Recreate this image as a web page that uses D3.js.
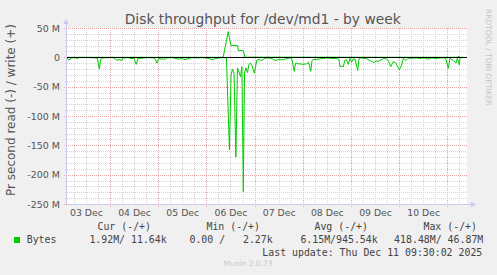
<!DOCTYPE html>
<html><head><meta charset="utf-8">
<script src="https://cdn.jsdelivr.net/npm/d3@7"></script>
<style>body{margin:0;background:#f0f0f0;overflow:hidden}</style>
</head><body>
<svg id="chart" width="497" height="275"></svg>
<script>
// ---- data (hours since 03 Dec 00:00; values in bytes/s, M = 1e6) ----
const dayLabels = ["03 Dec","04 Dec","05 Dec","06 Dec","07 Dec","08 Dec","09 Dec","10 Dec"];
const yTickValues = [50, 0, -50, -100, -150, -200, -250];
const readHours = [2.6,3.6,4.6,6.6,7.6,8.6,11.5,14.0,16.5,17.7,18.7,19.4,20.5,23.0,25.5,27.5,28.5,30.0,30.5,33.0,34.5,36.0,37.1,37.9,39.9,42.9,45.4,46.4,47.4,48.2,49.9,51.7,52.4,54.9,56.9,58.4,59.9,61.4,63.3,64.8,66.8,70.3,73.3,74.8,76.6,78.8,80.8,82.0,83.5,84.3,85.0,85.8,86.7,87.5,88.2,89.0,89.7,90.4,91.0,91.7,92.5,93.2,94.0,94.7,95.9,97.1,97.7,98.7,99.7,101.2,102.7,104.7,106.2,107.7,110.2,112.1,113.6,114.6,115.8,116.4,117.1,118.6,120.1,122.0,122.9,124.0,124.6,125.1,127.6,130.1,132.1,134.6,137.1,138.1,138.5,139.5,140.2,141.0,141.8,142.7,143.5,144.4,145.0,146.0,147.4,148.0,148.5,150.0,151.5,153.5,154.5,155.5,156.5,157.5,158.5,159.8,161.0,162.6,163.8,165.1,166.4,168.1,169.3,170.1,171.4,172.5,174.4,176.4,178.4,180.4,182.4,184.4,186.3,188.3,190.3,191.3,192.5,193.3,195.0,196.3,197.0,198.0,198.3,199.3,200.8];
const readValues = [1,5,1,0.5,2,0.5,0.3,0.5,1,2,19.6,3,1,0.5,0.5,5,4,5,1,0.5,2,2,12,2,1.5,0.5,1,2,10,2,3,3,1,0.5,2,3,2,4,2,0.5,1,0.5,2,4,2,1,0.5,1,158,30,20,28,170,18,25,33,16,229,27,18,26,12,10,14,27,5,4,4,5,1.5,1,2,5.5,4,4,2,1,3,24,10,11,11,12,11,8,24,6,4,3,2,1,2,2,4,16,15,16,5,4,12,2,8,3,3,22.5,3,1,1.5,2,5.5,7,9,6,7,5,3,1.5,5.5,16,7,10,21,13,1.5,5.5,1.5,1.5,1,2,1,3,1,2,1,1,3,18.8,1.5,5.5,10,1.5,13,0.5,0.5,0.3];
const writeHours = [2.6,79.8,80.4,82.9,83.6,84.3,87.6,87.9,90.4,91.2,196.8,197.8,198.6,200.8];
const writeValues = [0.02,0.02,0.5,44,30,20,20,11.5,11.5,0.3,0.05,1.5,0.05,0.02];
const legendHeader = ["Cur (-/+)","Min (-/+)","Avg (-/+)","Max (-/+)"];
const legendValues = ["1.92M/ 11.64k","0.00 /   2.27k","6.15M/945.54k","418.48M/ 46.87M"];

const M = 1e6;
const svg = d3.select("#chart");
const L = 67, R = 467, T = 28, B = 204;
const x = d3.scaleLinear().domain([2.6, 201.8]).range([L, R]);
const y = d3.scaleLinear().domain([-250*M, 50*M]).range([B, T]);
const px = v => Math.round(v) + 0.5;

svg.append("rect").attr("width",497).attr("height",275).attr("fill","#f0f0f0");
svg.append("rect").attr("x",L).attr("y",T).attr("width",R-L).attr("height",B-T).attr("fill","#ffffff");

const minorCol = "#d4d4d4", majorCol = "#e6a4a4";
// vertical grid
const g = svg.append("g");
for (let h = 6; h <= 201; h += 6) {
  const major = h % 24 === 0;
  g.append("line").attr("x1",px(x(h))).attr("x2",px(x(h)))
    .attr("y1",T).attr("y2",B + (major?3:2))
    .attr("stroke", major?majorCol:minorCol).attr("stroke-dasharray","1,1");
}
// horizontal grid
for (let v = -250; v <= 50; v += 10) {
  const major = v % 50 === 0;
  g.append("line").attr("y1",px(y(v*M))).attr("y2",px(y(v*M)))
    .attr("x1",L - (major?3:2)).attr("x2",R)
    .attr("stroke", major?majorCol:minorCol).attr("stroke-dasharray","1,1");
}

// axes lines with arrows
const axCol = "#c8caf4";
svg.append("line").attr("x1",px(L)-1).attr("x2",px(L)-1).attr("y1",B).attr("y2",T-5).attr("stroke",axCol);
svg.append("path").attr("d",`M${L-4},${T-4} L${L+2},${T-4} L${L-1},${T-9} Z`).attr("fill",axCol);
svg.append("line").attr("x1",L).attr("x2",R+5).attr("y1",px(B)).attr("y2",px(B)).attr("stroke",axCol);
svg.append("path").attr("d",`M${R+4},${B-2.5} L${R+4},${B+3.5} L${R+9},${B+0.5} Z`).attr("fill",axCol);

// data lines
const green = "#00cc00";
const readPts = readHours.map((h,i)=>[h, -readValues[i]*M]);
const writePts = writeHours.map((h,i)=>[h, writeValues[i]*M]);
const line = d3.line().x(d=>x(d[0])).y(d=>y(d[1]));
svg.append("path").datum(readPts).attr("d",line).attr("fill","none").attr("stroke",green).attr("stroke-width",1);
svg.append("path").datum(writePts).attr("d",line).attr("fill","none").attr("stroke",green).attr("stroke-width",1);
// zero rule
svg.append("line").attr("x1",L).attr("x2",R).attr("y1",px(y(0))).attr("y2",px(y(0))).attr("stroke","#000");

// y tick labels
const yAxis = d3.axisLeft(y).tickValues(yTickValues.map(v=>v*M)).tickSize(0)
  .tickFormat(v => v === 0 ? "0" : (v/M) + " M");
const ya = svg.append("g").attr("transform",`translate(${L-4},0)`).call(yAxis);
ya.select(".domain").remove();
ya.selectAll("text").attr("font-family","DejaVu Sans").attr("font-size","9.5px").attr("fill","#555");

// x day labels (noon of each day)
const xAxis = d3.axisBottom(x).tickValues(dayLabels.map((d,i)=>12+24*i)).tickSize(0)
  .tickFormat((d,i)=>dayLabels[i]);
const xa = svg.append("g").attr("transform",`translate(0,${B+2})`).call(xAxis);
xa.select(".domain").remove();
xa.selectAll("text").attr("font-family","DejaVu Sans").attr("font-size","9.3px").attr("fill","#555");

// title
svg.append("text").attr("x",262.7).attr("y",24).attr("text-anchor","middle")
  .attr("font-family","DejaVu Sans").attr("font-size","13.8px").attr("fill","#555")
  .text("Disk throughput for /dev/md1 - by week");
// y label
svg.append("text").attr("transform","translate(15,110) rotate(-90)").attr("text-anchor","middle")
  .attr("font-family","DejaVu Sans").attr("font-size","12px").attr("fill","#555")
  .text("Pr second read (-) / write (+)");
// watermark
svg.append("text").attr("transform","translate(486,9) rotate(90)")
  .attr("font-family","DejaVu Sans").attr("font-size","7.5px").attr("fill","#c4c4c4")
  .text("RRDTOOL / TOBI OETIKER");

// legend
const mono = {"font-family":"DejaVu Sans Mono","font-size":"9.9px","fill":"#444"};
function mtext(xp, yp, s, anchor) {
  const t = svg.append("text").attr("x",xp).attr("y",yp).attr("text-anchor",anchor||"start")
    .style("white-space","pre").text(s);
  for (const k in mono) t.attr(k, mono[k]);
  return t;
}
const headerEnds = [151, 260, 368, 477];
legendHeader.forEach((s,i)=>mtext(headerEnds[i], 230, s, "end"));
svg.append("rect").attr("x",14).attr("y",237).attr("width",6).attr("height",6).attr("fill",green);
mtext(26.7, 243.3, "Bytes");
const valEnds = [166.7, 272.7, 377.7, 483.3];
legendValues.forEach((s,i)=>mtext(valEnds[i], 243.3, s, "end"));
mtext(482.3, 255.5, "Last update: Thu Dec 11 09:30:02 2025", "end");
svg.append("text").attr("x",248).attr("y",266).attr("text-anchor","middle")
  .attr("font-family","DejaVu Sans").attr("font-size","7.5px").attr("fill","#c8c8c8")
  .text("Munin 2.0.73");
</script>
</body></html>
